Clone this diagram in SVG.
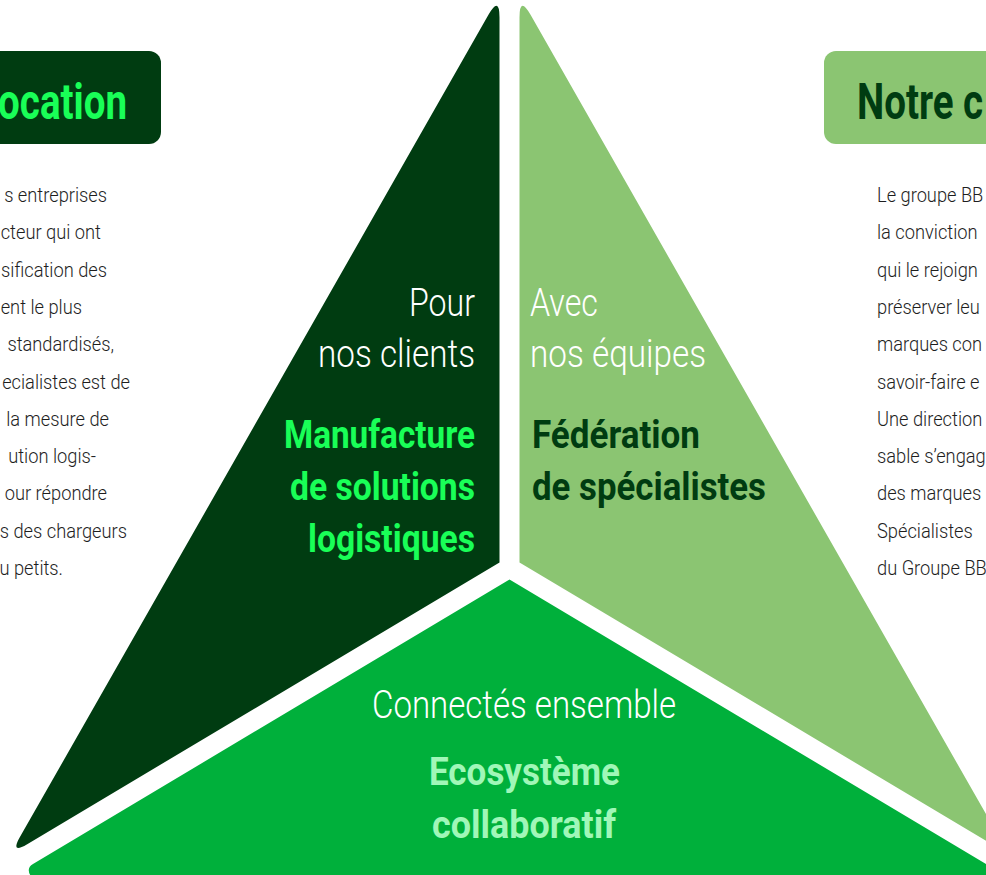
<svg xmlns="http://www.w3.org/2000/svg" width="986" height="875" viewBox="0 0 986 875">
<style>
.body{font-family:Roboto,"Liberation Sans",sans-serif;font-weight:300;font-size:21px;fill:#1e1e1e}
.lbl{font-family:Roboto,"Liberation Sans",sans-serif;font-weight:300;font-size:38px;fill:#ffffff}
.bold{font-family:Roboto,"Liberation Sans",sans-serif;font-weight:700;font-size:38px}
.head{font-family:Roboto,"Liberation Sans",sans-serif;font-weight:700;font-size:50px}
.dark{fill:#003c11}
.light{fill:#8bc572}
.mid{fill:#00b03b}
.bright{fill:#19ff57}
.mint{fill:#a0f7b8}
</style>
<rect x="0" y="0" width="986" height="875" fill="#ffffff"/>

<g id="node-vocation">
  <rect class="dark" x="-30" y="51" width="191" height="93" rx="12"/>
  <text class="head bright" text-anchor="end" transform="translate(127 119) scale(0.77 1)">ocation</text>
</g>
<g id="text-left">
  <text class="body" text-anchor="end" transform="translate(107 202) scale(0.87 1)">s entreprises</text>
  <text class="body" text-anchor="end" transform="translate(101 239.3) scale(0.87 1)">cteur qui ont</text>
  <text class="body" text-anchor="end" transform="translate(107 276.6) scale(0.87 1)">sification des</text>
  <text class="body" text-anchor="end" transform="translate(82 313.9) scale(0.87 1)">ent le plus</text>
  <text class="body" text-anchor="end" transform="translate(114 351.2) scale(0.87 1)">standardisés,</text>
  <text class="body" text-anchor="end" transform="translate(130 388.5) scale(0.87 1)">ecialistes est de</text>
  <text class="body" text-anchor="end" transform="translate(109 425.8) scale(0.87 1)">la mesure de</text>
  <text class="body" text-anchor="end" transform="translate(96 463.1) scale(0.87 1)">ution logis-</text>
  <text class="body" text-anchor="end" transform="translate(107 500.4) scale(0.87 1)">our répondre</text>
  <text class="body" text-anchor="end" transform="translate(127 537.7) scale(0.87 1)">s des chargeurs</text>
  <text class="body" text-anchor="end" transform="translate(63 575) scale(0.87 1)">u petits.</text>
</g>

<g id="node-notre">
  <rect class="light" x="824" y="51" width="200" height="93" rx="12"/>
  <text class="head dark" transform="translate(857 119) scale(0.77 1)">Notre c</text>
</g>
<g id="text-right">
  <text class="body" transform="translate(877 202) scale(0.87 1)">Le groupe BB</text>
  <text class="body" transform="translate(877 239.3) scale(0.87 1)">la conviction</text>
  <text class="body" transform="translate(877 276.6) scale(0.87 1)">qui le rejoign</text>
  <text class="body" transform="translate(877 313.9) scale(0.87 1)">préserver leu</text>
  <text class="body" transform="translate(877 351.2) scale(0.87 1)">marques con</text>
  <text class="body" transform="translate(877 388.5) scale(0.87 1)">savoir-faire e</text>
  <text class="body" transform="translate(877 425.8) scale(0.87 1)">Une direction</text>
  <text class="body" transform="translate(877 463.1) scale(0.87 1)">sable s’engag</text>
  <text class="body" transform="translate(877 500.4) scale(0.87 1)">des marques</text>
  <text class="body" transform="translate(877 537.7) scale(0.87 1)">Spécialistes</text>
  <text class="body" transform="translate(877 575) scale(0.87 1)">du Groupe BB</text>
</g>

<g id="node-clients">
  <path class="dark" d="M499.5,17.5 L499.5,562.4 L27.2,844.2 Q10,854.5 19.9,837.1 L488.6,14.6 Q499.5,-4.5 499.5,17.5 Z"/>
  <text class="lbl" x="409" y="316" textLength="66" lengthAdjust="spacingAndGlyphs">Pour</text>
  <text class="lbl" x="318" y="367" textLength="157" lengthAdjust="spacingAndGlyphs">nos clients</text>
  <text class="bold bright" x="284" y="448" textLength="191" lengthAdjust="spacingAndGlyphs">Manufacture</text>
  <text class="bold bright" x="290" y="500" textLength="185" lengthAdjust="spacingAndGlyphs">de solutions</text>
  <text class="bold bright" x="308" y="552" textLength="167" lengthAdjust="spacingAndGlyphs">logistiques</text>
</g>

<g id="node-equipes">
  <path class="light" d="M519.5,17.5 L519.5,562.4 L991.8,844.2 Q1009,854.5 999.1,837.1 L530.4,14.6 Q519.5,-4.5 519.5,17.5 Z"/>
  <text class="lbl" x="530" y="316" textLength="68" lengthAdjust="spacingAndGlyphs">Avec</text>
  <text class="lbl" x="530" y="367" textLength="176" lengthAdjust="spacingAndGlyphs">nos équipes</text>
  <text class="bold dark" x="532" y="448" textLength="168" lengthAdjust="spacingAndGlyphs">Fédération</text>
  <text class="bold dark" x="532" y="500" textLength="234" lengthAdjust="spacingAndGlyphs">de spécialistes</text>
</g>

<g id="node-ecosysteme">
  <path class="mid" d="M509.5,579.6 L986,863.9 Q995,869.3 985,880 L985,900 L34,900 L34,880 Q24,869.3 33,863.9 Z"/>
  <text class="lbl" x="372" y="718" textLength="304" lengthAdjust="spacingAndGlyphs">Connectés ensemble</text>
  <text class="bold mint" x="429" y="785" textLength="191" lengthAdjust="spacingAndGlyphs">Ecosystème</text>
  <text class="bold mint" x="432" y="838" textLength="184" lengthAdjust="spacingAndGlyphs">collaboratif</text>
</g>

<g id="connectors"></g>
</svg>
